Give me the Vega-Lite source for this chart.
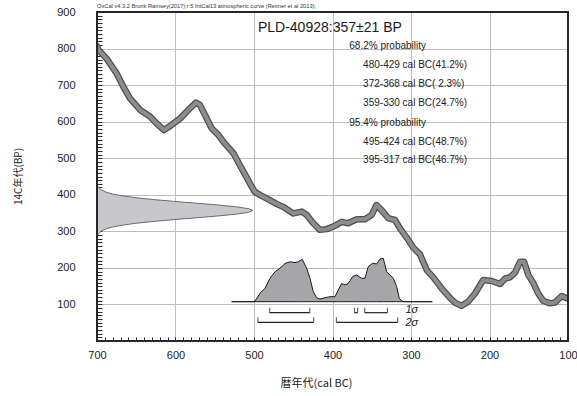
{
  "$schema": "https://vega.github.io/schema/vega-lite/v6.json",
  "width": 471,
  "height": 329,
  "autosize": "none",
  "padding": {"left": 97, "top": 12, "right": 9, "bottom": 55},
  "background": "#ffffff",
  "config": {
    "view": {"stroke": "#262626", "strokeWidth": 1.5},
    "font": "Liberation Sans"
  },
  "title": {
    "text": "OxCal v4.3.2 Bronk Ramsey(2017);r:5 IntCal13 atmospheric curve (Reimer et al 2013);",
    "anchor": "start",
    "frame": "group",
    "font": "Liberation Sans",
    "fontSize": 5.7,
    "fontWeight": "normal",
    "color": "#333333",
    "offset": -3
  },
  "datasets": {
    "calcurve": [
      {"cal": 700, "bp": 806}, {"cal": 698, "bp": 796}, {"cal": 688, "bp": 773},
      {"cal": 675, "bp": 732}, {"cal": 666.5, "bp": 696}, {"cal": 658, "bp": 664},
      {"cal": 645, "bp": 632}, {"cal": 632.5, "bp": 614}, {"cal": 624, "bp": 595},
      {"cal": 614.6, "bp": 577}, {"cal": 605, "bp": 591}, {"cal": 594, "bp": 609},
      {"cal": 583.7, "bp": 632}, {"cal": 574, "bp": 652}, {"cal": 569, "bp": 646},
      {"cal": 562.4, "bp": 618}, {"cal": 554, "bp": 582}, {"cal": 545.5, "bp": 564},
      {"cal": 539, "bp": 545}, {"cal": 526, "bp": 513}, {"cal": 519, "bp": 485},
      {"cal": 512, "bp": 458}, {"cal": 505, "bp": 430}, {"cal": 499, "bp": 408},
      {"cal": 492, "bp": 399}, {"cal": 484, "bp": 390}, {"cal": 473, "bp": 377},
      {"cal": 463, "bp": 367}, {"cal": 450, "bp": 349}, {"cal": 439, "bp": 354},
      {"cal": 433, "bp": 345}, {"cal": 424.5, "bp": 322}, {"cal": 416, "bp": 304},
      {"cal": 407.5, "bp": 306}, {"cal": 399, "bp": 313}, {"cal": 388, "bp": 326},
      {"cal": 380, "bp": 322}, {"cal": 369, "bp": 333}, {"cal": 358.6, "bp": 333},
      {"cal": 350, "bp": 345}, {"cal": 344, "bp": 372}, {"cal": 337.5, "bp": 358},
      {"cal": 329, "bp": 336}, {"cal": 320.4, "bp": 331}, {"cal": 314, "bp": 308},
      {"cal": 305.5, "bp": 283}, {"cal": 297, "bp": 255}, {"cal": 288.5, "bp": 237},
      {"cal": 280, "bp": 194}, {"cal": 271.6, "bp": 174}, {"cal": 261, "bp": 144},
      {"cal": 250, "bp": 117}, {"cal": 244, "bp": 105}, {"cal": 235.5, "bp": 96},
      {"cal": 227, "bp": 108}, {"cal": 218.5, "bp": 130}, {"cal": 208, "bp": 167},
      {"cal": 197, "bp": 164}, {"cal": 186.6, "bp": 156}, {"cal": 180, "bp": 171},
      {"cal": 174, "bp": 174}, {"cal": 167.5, "bp": 187}, {"cal": 161, "bp": 217},
      {"cal": 156, "bp": 217}, {"cal": 150.6, "bp": 181}, {"cal": 144, "bp": 158},
      {"cal": 138, "bp": 130}, {"cal": 131.5, "bp": 110}, {"cal": 123, "bp": 103},
      {"cal": 116.6, "bp": 105}, {"cal": 108, "bp": 123}, {"cal": 101.7, "bp": 117},
      {"cal": 95, "bp": 117}
    ],
    "measurement": [
      {"bp": 292, "density": 0.0083}, {"bp": 297, "density": 0.0169},
      {"bp": 302, "density": 0.0324}, {"bp": 307, "density": 0.0588},
      {"bp": 312, "density": 0.1007}, {"bp": 317, "density": 0.163},
      {"bp": 322, "density": 0.249}, {"bp": 327, "density": 0.3606},
      {"bp": 332, "density": 0.492}, {"bp": 337, "density": 0.635},
      {"bp": 342, "density": 0.775}, {"bp": 347, "density": 0.893},
      {"bp": 352, "density": 0.972}, {"bp": 357, "density": 1},
      {"bp": 362, "density": 0.972}, {"bp": 367, "density": 0.893},
      {"bp": 372, "density": 0.775}, {"bp": 377, "density": 0.635},
      {"bp": 382, "density": 0.492}, {"bp": 387, "density": 0.3606},
      {"bp": 392, "density": 0.249}, {"bp": 397, "density": 0.163},
      {"bp": 402, "density": 0.1007}, {"bp": 407, "density": 0.0588},
      {"bp": 412, "density": 0.0324}, {"bp": 417, "density": 0.0169},
      {"bp": 422, "density": 0.0083}
    ],
    "posterior": [
      {"cal": 528.5, "prob": 0}, {"cal": 500, "prob": 0}, {"cal": 498.7, "prob": 0.015},
      {"cal": 492.4, "prob": 0.19}, {"cal": 486, "prob": 0.31}, {"cal": 479.6, "prob": 0.54},
      {"cal": 473.2, "prob": 0.69}, {"cal": 466.9, "prob": 0.77}, {"cal": 460.5, "prob": 0.88},
      {"cal": 454, "prob": 0.92}, {"cal": 447.8, "prob": 0.9}, {"cal": 443.6, "prob": 0.92},
      {"cal": 438.5, "prob": 0.975}, {"cal": 432.9, "prob": 0.77}, {"cal": 428.7, "prob": 0.54},
      {"cal": 424.5, "prob": 0.23}, {"cal": 420.2, "prob": 0.09}, {"cal": 416, "prob": 0.06},
      {"cal": 409.6, "prob": 0.09}, {"cal": 403.2, "prob": 0.115}, {"cal": 396.8, "prob": 0.115},
      {"cal": 392.6, "prob": 0.27}, {"cal": 388.3, "prob": 0.42}, {"cal": 384.1, "prob": 0.385},
      {"cal": 379.9, "prob": 0.42}, {"cal": 374.3, "prob": 0.58}, {"cal": 369.2, "prob": 0.615},
      {"cal": 362.9, "prob": 0.54}, {"cal": 358.6, "prob": 0.54}, {"cal": 354.4, "prob": 0.81},
      {"cal": 348.9, "prob": 0.885}, {"cal": 343.8, "prob": 0.87}, {"cal": 339.5, "prob": 0.98},
      {"cal": 335.3, "prob": 1}, {"cal": 331, "prob": 0.69}, {"cal": 326.8, "prob": 0.615},
      {"cal": 322.5, "prob": 0.54}, {"cal": 318.3, "prob": 0.35}, {"cal": 314.9, "prob": 0.077},
      {"cal": 311.9, "prob": 0.015}, {"cal": 308, "prob": 0}, {"cal": 272.9, "prob": 0}
    ],
    "ranges": [
      {"sigma": "1σ", "from": 480, "to": 429},
      {"sigma": "1σ", "from": 372, "to": 368},
      {"sigma": "1σ", "from": 359, "to": 330},
      {"sigma": "2σ", "from": 495, "to": 424},
      {"sigma": "2σ", "from": 395, "to": 317}
    ],
    "sigmas": [{"sigma": "1σ"}, {"sigma": "2σ"}],
    "frame": [{"left": 700, "right": 100, "bottom": 0, "top": 900}],
    "header": [{"label": "PLD-40928:357±21 BP", "cal": 495, "bp": 856}],
    "summary": [
      {"label": "68.2% probability", "cal": 378.6, "bp": 807},
      {"label": "480-429 cal BC(41.2%)", "cal": 361, "bp": 755},
      {"label": "372-368 cal BC( 2.3%)", "cal": 361, "bp": 703},
      {"label": "359-330 cal BC(24.7%)", "cal": 361, "bp": 651},
      {"label": "95.4% probability", "cal": 378.6, "bp": 595},
      {"label": "495-424 cal BC(48.7%)", "cal": 361, "bp": 544},
      {"label": "395-317 cal BC(46.7%)", "cal": 361, "bp": 495}
    ]
  },
  "layer": [
    {
      "data": {"name": "measurement"},
      "mark": {"type": "area", "orient": "horizontal", "fill": "#c8c8cc", "stroke": "#6a6a6a", "strokeWidth": 1},
      "encoding": {
        "x": {"field": "density", "type": "quantitative", "scale": {"domain": [0, 3.02], "nice": false, "zero": true}, "axis": null},
        "x2": {"datum": 0},
        "y": {"field": "bp", "type": "quantitative", "scale": {"domain": [0, 900], "nice": false, "zero": false}, "axis": null}
      }
    },
    {
      "data": {"name": "posterior"},
      "mark": {"type": "area", "fill": "#a6a6a9", "stroke": "#1a1a1a", "strokeWidth": 1},
      "encoding": {
        "x": {"field": "cal", "type": "quantitative", "scale": {"domain": [700, 100], "nice": false, "zero": false}, "axis": null},
        "y": {"field": "prob", "type": "quantitative", "scale": {"domain": [-0.906, 6.675], "nice": false, "zero": false}, "axis": null},
        "y2": {"datum": 0}
      }
    },
    {
      "layer": [
        {
          "data": {"name": "ranges"},
          "mark": {"type": "rule", "color": "#222222", "strokeWidth": 1.2},
          "encoding": {
            "x": {"field": "from", "type": "quantitative", "scale": {"domain": [700, 100], "nice": false, "zero": false}, "axis": null},
            "x2": {"field": "to"},
            "y": {"field": "sigma", "type": "ordinal", "scale": {"type": "point", "domain": ["1σ", "2σ"], "range": [300.7, 310.3], "padding": 0}, "axis": null}
          }
        },
        {
          "data": {"name": "ranges"},
          "mark": {"type": "tick", "color": "#222222", "thickness": 1.2, "size": 5, "yOffset": -2.5, "orient": "vertical"},
          "encoding": {
            "x": {"field": "from", "type": "quantitative"},
            "y": {"field": "sigma", "type": "ordinal"}
          }
        },
        {
          "data": {"name": "ranges"},
          "mark": {"type": "tick", "color": "#222222", "thickness": 1.2, "size": 5, "yOffset": -2.5, "orient": "vertical"},
          "encoding": {
            "x": {"field": "to", "type": "quantitative"},
            "y": {"field": "sigma", "type": "ordinal"}
          }
        }
      ]
    },
    {
      "data": {"name": "sigmas"},
      "mark": {"type": "text", "align": "left", "baseline": "middle", "font": "Liberation Sans", "fontSize": 11, "fontStyle": "italic", "color": "#222222"},
      "encoding": {
        "x": {"datum": 307, "type": "quantitative", "scale": {"domain": [700, 100], "nice": false, "zero": false}, "axis": null},
        "y": {"field": "sigma", "type": "ordinal", "scale": {"type": "point", "domain": ["1σ", "2σ"], "range": [297.5, 311.0], "padding": 0}, "axis": null},
        "text": {"field": "sigma", "type": "nominal"}
      }
    },
    {
      "layer": [
        {
          "data": {"name": "calcurve"},
          "mark": {"type": "line", "stroke": "#4f4f4f", "strokeWidth": 6.5, "strokeJoin": "round", "strokeCap": "round", "clip": true},
          "encoding": {
            "x": {
              "field": "cal", "type": "quantitative",
              "scale": {"domain": [700, 100], "nice": false, "zero": false},
              "axis": {
                "orient": "bottom",
                "values": [100,110,120,130,140,150,160,170,180,190,200,210,220,230,240,250,260,270,280,290,300,310,320,330,340,350,360,370,380,390,400,410,420,430,440,450,460,470,480,490,500,510,520,530,540,550,560,570,580,590,600,610,620,630,640,650,660,670,680,690,700],
                "tickCount": 200,
                "labelExpr": "datum.value % 100 === 0 ? datum.label : ''",
                "labelFlush": false,
                "labelOverlap": false,
                "labelFont": "Liberation Sans",
                "labelFontSize": 11,
                "labelColor": "#222222",
                "labelPadding": 8,
                "offset": -4,
                "ticks": true,
                "tickSize": 4,
                "tickColor": "#262626",
                "tickWidth": 1,
                "domain": false,
                "grid": true,
                "gridColor": "#bdbdbd",
                "gridWidth": 1,
                "gridOpacity": {"condition": {"test": "datum.value % 100 === 0", "value": 1}, "value": 0},
                "title": "暦年代(cal BC)",
                "titleFont": "Noto Sans CJK JP",
                "titleFontSize": 11,
                "titleFontWeight": "normal",
                "titleColor": "#222222",
                "titleX": 219,
                "titleY": 46,
                "titleBaseline": "middle"
              }
            },
            "y": {
              "field": "bp", "type": "quantitative",
              "scale": {"domain": [0, 900], "nice": false, "zero": false},
              "axis": {
                "orient": "left",
                "values": [0,10,20,30,40,50,60,70,80,90,100,110,120,130,140,150,160,170,180,190,200,210,220,230,240,250,260,270,280,290,300,310,320,330,340,350,360,370,380,390,400,410,420,430,440,450,460,470,480,490,500,510,520,530,540,550,560,570,580,590,600,610,620,630,640,650,660,670,680,690,700,710,720,730,740,750,760,770,780,790,800,810,820,830,840,850,860,870,880,890,900],
                "tickCount": 200,
                "labelExpr": "datum.value % 100 === 0 && datum.value > 0 ? datum.label : ''",
                "labelFlush": false,
                "labelOverlap": false,
                "labelFont": "Liberation Sans",
                "labelFontSize": 11,
                "labelColor": "#222222",
                "labelPadding": 22,
                "offset": -5,
                "ticks": true,
                "tickSize": 5,
                "tickColor": "#262626",
                "tickWidth": 1,
                "domain": false,
                "grid": true,
                "gridColor": "#bdbdbd",
                "gridWidth": 1,
                "gridOpacity": {"condition": {"test": "datum.value % 100 === 0", "value": 1}, "value": 0},
                "title": "14C年代(BP)",
                "titleFont": "Noto Sans CJK JP",
                "titleFontSize": 10,
                "titleFontWeight": "normal",
                "titleColor": "#222222",
                "titleX": -84,
                "titleY": 164,
                "titleBaseline": "middle"
              }
            }
          }
        },
        {
          "data": {"name": "calcurve"},
          "mark": {"type": "line", "stroke": "#8d8d8d", "strokeWidth": 4, "strokeJoin": "round", "strokeCap": "round", "clip": true},
          "encoding": {
            "x": {"field": "cal", "type": "quantitative"},
            "y": {"field": "bp", "type": "quantitative"}
          }
        },
        {
          "data": {"name": "header"},
          "mark": {"type": "text", "align": "left", "baseline": "middle", "font": "Liberation Sans", "fontSize": 14, "color": "#1a1a1a"},
          "encoding": {
            "x": {"field": "cal", "type": "quantitative"},
            "y": {"field": "bp", "type": "quantitative"},
            "text": {"field": "label", "type": "nominal"}
          }
        },
        {
          "data": {"name": "summary"},
          "mark": {"type": "text", "align": "left", "baseline": "middle", "font": "Liberation Sans", "fontSize": 10, "color": "#222222"},
          "encoding": {
            "x": {"field": "cal", "type": "quantitative"},
            "y": {"field": "bp", "type": "quantitative"},
            "text": {"field": "label", "type": "nominal"}
          }
        },
        {
          "data": {"name": "frame"},
          "mark": {"type": "rect", "fill": "transparent", "stroke": "#262626", "strokeWidth": 2, "strokeOpacity": 1},
          "encoding": {
            "x": {"field": "left", "type": "quantitative"},
            "x2": {"field": "right"},
            "y": {"field": "bottom", "type": "quantitative"},
            "y2": {"field": "top"}
          }
        }
      ]
    }
  ],
  "resolve": {"scale": {"x": "independent", "y": "independent"}}
}
